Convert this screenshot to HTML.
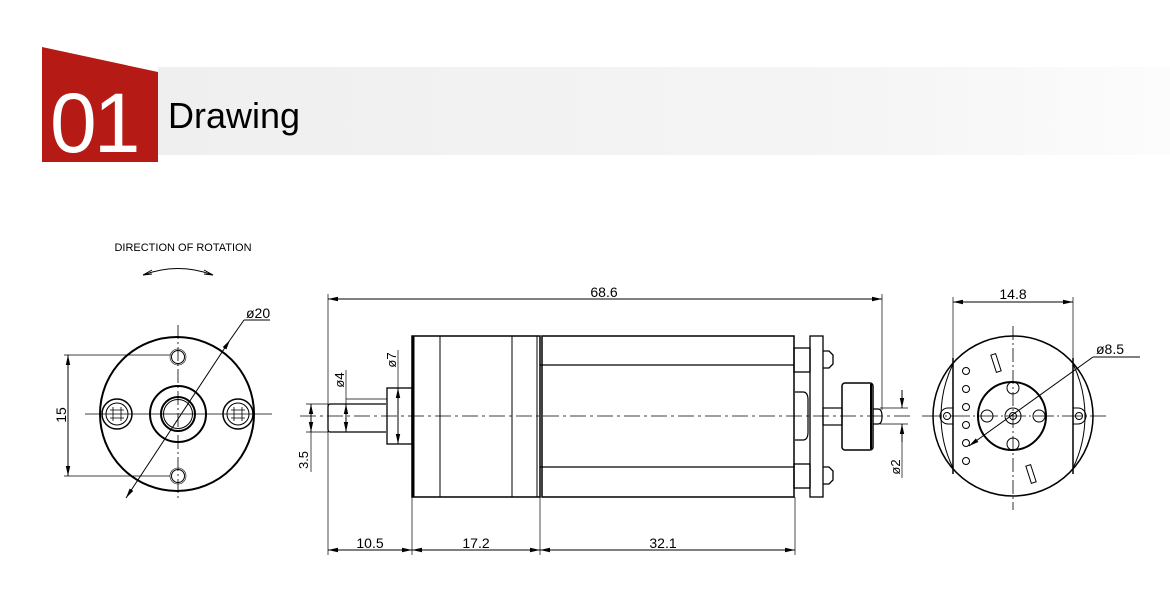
<!DOCTYPE html>
<html><head><meta charset="utf-8"><style>
body{margin:0;width:1170px;height:602px;background:#fff;overflow:hidden;font-family:"Liberation Sans",sans-serif}
</style></head><body>
<svg width="1170" height="602" viewBox="0 0 1170 602" xmlns="http://www.w3.org/2000/svg">
<defs>
<linearGradient id="g" x1="0" x2="1" y1="0" y2="0">
<stop offset="0" stop-color="#efefef"/><stop offset="0.7" stop-color="#f5f5f5"/><stop offset="1" stop-color="#fcfcfc"/></linearGradient>
<marker id="a" viewBox="0 0 10 6" refX="10" refY="3" markerWidth="10" markerHeight="6" orient="auto-start-reverse" markerUnits="userSpaceOnUse"><path d="M0,0.8L10,3L0,5.2z" fill="#000"/></marker>
</defs>
<rect x="158" y="67" width="1012" height="88" fill="url(#g)"/>
<polygon points="42,47 158,72 158,162 42,162" fill="#b51a14"/>
<text x="50" y="152" font-size="84" fill="#fff" font-family="Liberation Sans,sans-serif" letter-spacing="-3">01</text>
<text x="168" y="128" font-size="36" fill="#000" font-family="Liberation Sans,sans-serif">Drawing</text>

<g fill="none" stroke="#000" stroke-width="1" font-family="Liberation Sans Narrow,Liberation Sans,sans-serif">
<!-- Left view -->
<text x="183" y="251" font-size="11" fill="#000" stroke="none" text-anchor="middle">DIRECTION OF ROTATION</text>
<path d="M143,275 Q178,262 213,275"/><path d="M143,275 L152,270 M143,275 L152,274 M213,275 L204,270 M213,275 L204,274"/>
<line x1="178" y1="325" x2="178" y2="500" stroke-dasharray="14,3,2,3" stroke-width="0.8"/>
<line x1="85" y1="414" x2="272" y2="414" stroke-width="0.8"/>
<circle cx="177" cy="414" r="77" stroke-width="2"/>
<circle cx="178" cy="357" r="6.5"/><circle cx="178" cy="357" r="8" stroke-width="0.6"/>
<circle cx="178" cy="476" r="6.5"/><circle cx="178" cy="476" r="8" stroke-width="0.6"/>
<circle cx="117" cy="414" r="15" stroke-width="1.5"/><circle cx="117" cy="414" r="11"/>
<circle cx="238" cy="414" r="15" stroke-width="1.5"/><circle cx="238" cy="414" r="11"/>
<path d="M110,410h14M110,418h14M113,407v14M121,407v14M231,410h14M231,418h14M234,407v14M242,407v14" stroke-width="0.8"/>
<circle cx="178" cy="414" r="28" stroke-width="2"/>
<circle cx="178" cy="414" r="17" stroke-width="2"/><circle cx="178" cy="414" r="14.5"/>
<line x1="64" y1="355" x2="170" y2="355" stroke-width="0.7"/><line x1="64" y1="476" x2="170" y2="476" stroke-width="0.7"/>
<line x1="68" y1="355" x2="68" y2="476" marker-start="url(#a)" marker-end="url(#a)"/>
<text x="0" y="0" font-size="14" fill="#000" stroke="none" transform="translate(66,415) rotate(-90)" text-anchor="middle">15</text>
<line x1="126" y1="498" x2="230" y2="340" marker-start="url(#a)" marker-end="url(#a)"/>
<line x1="230" y1="340" x2="244" y2="320"/><line x1="244" y1="320" x2="270" y2="320"/>
<text x="246" y="318" font-size="14" fill="#000" stroke="none">ø20</text>

<!-- Middle view -->
<line x1="300" y1="416" x2="910" y2="416" stroke-dasharray="16,4,3,4" stroke-width="0.8"/>
<line x1="328" y1="294" x2="328" y2="555" stroke-width="0.7"/>
<line x1="882" y1="294" x2="882" y2="410" stroke-width="0.7"/>
<line x1="328" y1="299" x2="882" y2="299" marker-start="url(#a)" marker-end="url(#a)"/>
<text x="604" y="297" font-size="14" fill="#000" stroke="none" text-anchor="middle">68.6</text>
<rect x="412" y="336" width="128" height="161" stroke-width="1.5"/>
<line x1="413" y1="336" x2="413" y2="497" stroke-width="3"/>
<line x1="440" y1="336" x2="440" y2="497"/><line x1="512" y1="336" x2="512" y2="497"/>
<line x1="537" y1="336" x2="537" y2="497"/>
<rect x="542" y="336" width="252" height="161" stroke-width="1.5"/>
<line x1="540" y1="365" x2="794" y2="365" stroke-width="1.3"/><line x1="540" y1="467" x2="794" y2="467" stroke-width="1.3"/>
<rect x="387" y="388" width="25" height="56" stroke-width="1.3"/>
<path d="M386,404 H330 Q328,404 328,407 V429 Q328,432 330,432 H386" stroke-width="1.3"/>
<rect x="794" y="348" width="16" height="24" stroke-width="1.3"/><rect x="794" y="464" width="16" height="24" stroke-width="1.3"/>
<rect x="810" y="336" width="13" height="161" stroke-width="1.3"/>
<path d="M823,351 h6 l4,4 v9 l-4,4 h-6 M823,467 h6 l4,4 v9 l-4,4 h-6" stroke-width="1.3"/>
<path d="M795,392 h8 q5,0 5,8 v32 q0,8 -5,8 h-8" stroke-width="1.2"/>
<rect x="823" y="408" width="19" height="17" stroke-width="1.2"/>
<rect x="842" y="383" width="31" height="67" rx="3" stroke-width="1.5"/>
<line x1="871" y1="384" x2="871" y2="449" stroke-width="2"/>
<path d="M873,409 h5 q4,0 4,7.5 q0,7.5 -4,7.5 h-5" stroke-width="1.2"/>
<line x1="880" y1="408" x2="908" y2="408" stroke-width="0.7"/><line x1="880" y1="424" x2="908" y2="424" stroke-width="0.7"/>
<line x1="902" y1="390" x2="902" y2="408" marker-end="url(#a)"/><line x1="902" y1="442" x2="902" y2="424" marker-end="url(#a)"/>
<line x1="902" y1="424" x2="902" y2="478" stroke-width="0.7"/>
<text x="0" y="0" font-size="13" fill="#000" stroke="none" transform="translate(900,467) rotate(-90)" text-anchor="middle">ø2</text>
<line x1="346" y1="404" x2="346" y2="432" marker-start="url(#a)" marker-end="url(#a)"/>
<line x1="346" y1="370" x2="346" y2="404" stroke-width="0.7"/><line x1="346" y1="399" x2="387" y2="399" stroke-width="0.7"/>
<text x="0" y="0" font-size="13" fill="#000" stroke="none" transform="translate(344,380) rotate(-90)" text-anchor="middle">ø4</text>
<line x1="398" y1="388" x2="398" y2="444" marker-start="url(#a)" marker-end="url(#a)"/>
<line x1="398" y1="350" x2="398" y2="388" stroke-width="0.7"/>
<text x="0" y="0" font-size="13" fill="#000" stroke="none" transform="translate(396,360) rotate(-90)" text-anchor="middle">ø7</text>
<line x1="306" y1="404" x2="328" y2="404" stroke-width="0.7"/><line x1="306" y1="432" x2="328" y2="432" stroke-width="0.7"/>
<line x1="311" y1="404" x2="311" y2="432" marker-start="url(#a)" marker-end="url(#a)"/>
<line x1="311" y1="432" x2="311" y2="472" stroke-width="0.7"/>
<text x="0" y="0" font-size="13" fill="#000" stroke="none" transform="translate(308,460) rotate(-90)" text-anchor="middle">3.5</text>
<line x1="412" y1="497" x2="412" y2="555" stroke-width="0.7"/>
<line x1="540" y1="497" x2="540" y2="555" stroke-width="0.7"/>
<line x1="795" y1="497" x2="795" y2="555" stroke-width="0.7"/>
<line x1="328" y1="550" x2="412" y2="550" marker-start="url(#a)" marker-end="url(#a)"/>
<line x1="412" y1="550" x2="540" y2="550" marker-start="url(#a)" marker-end="url(#a)"/>
<line x1="540" y1="550" x2="795" y2="550" marker-start="url(#a)" marker-end="url(#a)"/>
<text x="370" y="548" font-size="14" fill="#000" stroke="none" text-anchor="middle">10.5</text>
<text x="476" y="548" font-size="14" fill="#000" stroke="none" text-anchor="middle">17.2</text>
<text x="663" y="548" font-size="14" fill="#000" stroke="none" text-anchor="middle">32.1</text>

<!-- Right view -->
<line x1="1013" y1="326" x2="1013" y2="510" stroke-dasharray="14,3,2,3" stroke-width="0.8"/>
<line x1="922" y1="416" x2="1106" y2="416" stroke-dasharray="20,3,2,3" stroke-width="0.8"/>
<circle cx="1013" cy="416" r="80" stroke-width="1.5"/>
<path d="M953,358 V474 M1073,358 V474" stroke-width="1.5"/>
<path d="M953,364 A119,119 0 0 0 953,468 M1073,364 A119,119 0 0 1 1073,468" stroke-width="1"/>
<path d="M953,408 h-5 a8,8 0 0 0 0,16 h5 M1073,408 h5 a8,8 0 0 1 0,16 h-5" stroke-width="1"/>
<circle cx="947" cy="416" r="3.5"/><circle cx="1079" cy="416" r="3.5"/>
<line x1="953" y1="297" x2="953" y2="358" stroke-width="0.7"/><line x1="1073" y1="297" x2="1073" y2="358" stroke-width="0.7"/>
<line x1="953" y1="302" x2="1073" y2="302" marker-start="url(#a)" marker-end="url(#a)"/>
<text x="1013" y="299" font-size="14" fill="#000" stroke="none" text-anchor="middle">14.8</text>
<circle cx="1012" cy="416" r="34" stroke-width="2"/>
<circle cx="1013" cy="388" r="6"/><circle cx="987" cy="416" r="6"/><circle cx="1039" cy="416" r="6"/><circle cx="1013" cy="444" r="6"/>
<circle cx="1013" cy="416" r="8"/><circle cx="1013" cy="416" r="3.5"/>
<circle cx="966" cy="371" r="3.5"/><circle cx="966" cy="389" r="3.5"/><circle cx="966" cy="407" r="3.5"/><circle cx="966" cy="425" r="3.5"/><circle cx="966" cy="443" r="3.5"/><circle cx="966" cy="461" r="3.5"/>
<rect x="-2.5" y="-9" width="5" height="18" transform="translate(996,363) rotate(-18)"/>
<rect x="-2.5" y="-9" width="5" height="18" transform="translate(1031,474) rotate(-18)"/>
<line x1="969" y1="446" x2="1093" y2="357" marker-start="url(#a)"/>
<line x1="1093" y1="357" x2="1140" y2="357"/>
<text x="1096" y="354" font-size="14" fill="#000" stroke="none">ø8.5</text>
</g>
</svg>
</body></html>
